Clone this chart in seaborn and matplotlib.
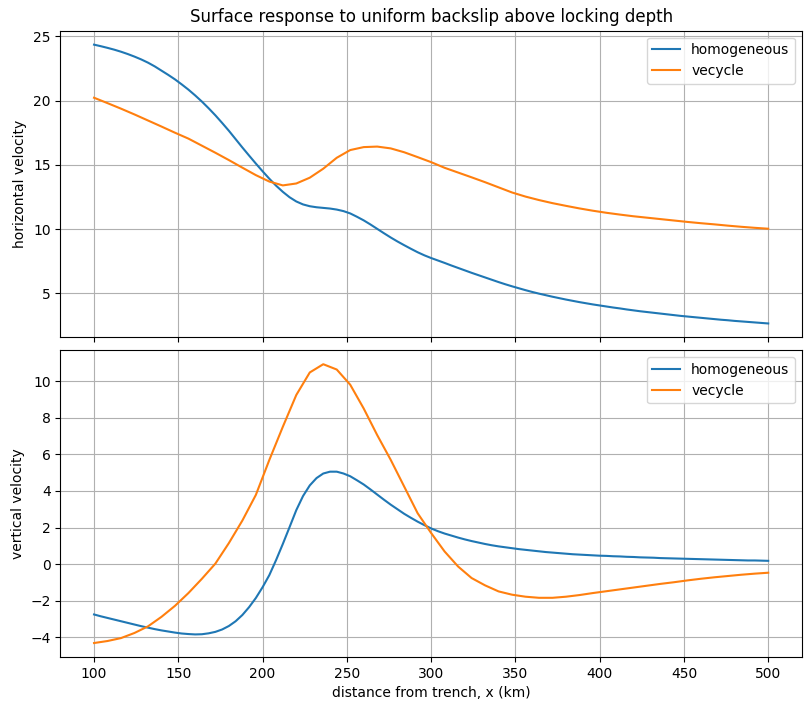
import numpy as np
import pandas as pd
import matplotlib
matplotlib.use("Agg")
import matplotlib.pyplot as plt
import seaborn as sns

# distance from trench (km): vecycle sampled every 8 km, homogeneous every 4 km
x_vecycle = [100, 108, 116, 124, 132, 140, 148, 156, 164, 172,
             180, 188, 196, 204, 212, 220, 228, 236, 244, 252,
             260, 268, 276, 284, 292, 300, 308, 316, 324, 332,
             340, 348, 356, 364, 372, 380, 388, 396, 404, 412,
             420, 428, 436, 444, 452, 460, 468, 476, 484, 492, 500]
x_homog = [100, 104, 108, 112, 116, 120, 124, 128, 132, 136,
           140, 144, 148, 152, 156, 160, 164, 168, 172, 176,
           180, 184, 188, 192, 196, 200, 204, 208, 212, 216,
           220, 224, 228, 232, 236, 240, 244, 248, 252, 256,
           260, 264, 268, 272, 276, 280, 284, 288, 292, 296,
           300, 304, 308, 312, 316, 320, 324, 328, 332, 336,
           340, 344, 348, 352, 356, 360, 364, 368, 372, 376,
           380, 384, 388, 392, 396, 400, 404, 408, 412, 416,
           420, 424, 428, 432, 436, 440, 444, 448, 452, 456,
           460, 464, 468, 472, 476, 480, 484, 488, 492, 496, 500]

# horizontal velocity
horiz_homog = [24.35, 24.23, 24.1, 23.96, 23.8, 23.62, 23.42, 23.2, 22.95, 22.66,
               22.33, 22.0, 21.65, 21.26, 20.85, 20.4, 19.92, 19.4, 18.85, 18.26,
               17.65, 17.0, 16.35, 15.72, 15.1, 14.5, 13.92, 13.38, 12.9, 12.48,
               12.15, 11.92, 11.78, 11.7, 11.65, 11.6, 11.52, 11.4, 11.22, 10.96,
               10.68, 10.36, 10.02, 9.68, 9.35, 9.04, 8.75, 8.47, 8.2, 7.96,
               7.75, 7.56, 7.37, 7.17, 6.98, 6.79, 6.6, 6.42, 6.24, 6.06,
               5.88, 5.71, 5.55, 5.4, 5.25, 5.11, 4.98, 4.86, 4.74, 4.63,
               4.52, 4.42, 4.32, 4.23, 4.14, 4.06, 3.98, 3.9, 3.83, 3.75,
               3.68, 3.61, 3.55, 3.49, 3.43, 3.37, 3.31, 3.25, 3.2, 3.15,
               3.1, 3.05, 3.0, 2.95, 2.91, 2.86, 2.82, 2.78, 2.74, 2.7, 2.66]
horiz_vecycle = [20.22, 19.8, 19.37, 18.92, 18.45, 17.98, 17.5, 17.04, 16.49, 15.94,
                 15.37, 14.78, 14.2, 13.7, 13.4, 13.55, 14.0, 14.7, 15.55, 16.15,
                 16.38, 16.42, 16.28, 15.98, 15.6, 15.21, 14.77, 14.4, 14.03, 13.65,
                 13.25, 12.85, 12.53, 12.26, 12.02, 11.81, 11.61, 11.43, 11.27, 11.13,
                 11.0, 10.89, 10.78, 10.67, 10.56, 10.46, 10.37, 10.27, 10.18, 10.1, 10.03]

# vertical velocity
vert_homog = [-2.75, -2.85, -2.94, -3.03, -3.12, -3.21, -3.3, -3.39, -3.47, -3.55,
              -3.62, -3.68, -3.74, -3.79, -3.82, -3.84, -3.83, -3.78, -3.7, -3.57,
              -3.38, -3.12, -2.78, -2.35, -1.85, -1.26, -0.6, 0.22, 1.1, 2.02,
              2.95, 3.72, 4.3, 4.7, 4.95, 5.05, 5.05, 4.95, 4.8, 4.58,
              4.35, 4.08, 3.8, 3.52, 3.25, 3.0, 2.75, 2.53, 2.32, 2.13,
              1.95, 1.8, 1.67, 1.56, 1.45, 1.35, 1.26, 1.18, 1.1, 1.03,
              0.97, 0.92, 0.87, 0.82, 0.78, 0.74, 0.7, 0.66, 0.63, 0.6,
              0.57, 0.54, 0.52, 0.5, 0.48, 0.46, 0.45, 0.43, 0.42, 0.4,
              0.39, 0.37, 0.36, 0.35, 0.33, 0.32, 0.31, 0.3, 0.29, 0.28,
              0.27, 0.26, 0.25, 0.24, 0.23, 0.22, 0.21, 0.2, 0.2, 0.19, 0.18]
vert_vecycle = [-4.31, -4.2, -4.04, -3.76, -3.4, -2.88, -2.28, -1.58, -0.8, 0.03,
                1.15, 2.38, 3.78, 5.69, 7.5, 9.24, 10.47, 10.92, 10.63, 9.8,
                8.5, 7.05, 5.7, 4.24, 2.78, 1.7, 0.69, -0.13, -0.76, -1.16,
                -1.49, -1.67, -1.78, -1.84, -1.84, -1.78, -1.69, -1.58, -1.48, -1.38,
                -1.28, -1.18, -1.08, -0.99, -0.89, -0.8, -0.72, -0.65, -0.58, -0.52, -0.47]

labels = ["homogeneous", "vecycle"]

fig, (ax1, ax2) = plt.subplots(2, 1, sharex=True, figsize=(8.11, 7.11), dpi=100)
fig.subplots_adjust(left=0.0744, right=0.9888, top=0.9568, bottom=0.076, hspace=0.042)

# top: horizontal
sns.lineplot(x=x_homog, y=horiz_homog, ax=ax1, label=labels[0], color="tab:blue")
sns.lineplot(x=x_vecycle, y=horiz_vecycle, ax=ax1, label=labels[1], color="tab:orange")
ax1.set_ylabel("horizontal velocity")
ax1.set_title("Surface response to uniform backslip above locking depth")
ax1.legend(loc="upper right")
ax1.grid(True)

# bottom: vertical
sns.lineplot(x=x_homog, y=vert_homog, ax=ax2, label=labels[0], color="tab:blue")
sns.lineplot(x=x_vecycle, y=vert_vecycle, ax=ax2, label=labels[1], color="tab:orange")
ax2.set_ylabel("vertical velocity")
ax2.set_xlabel("distance from trench, x (km)")
ax2.legend(loc="upper right")
ax2.grid(True)

plt.savefig("out.png", dpi=100)
plt.close()
